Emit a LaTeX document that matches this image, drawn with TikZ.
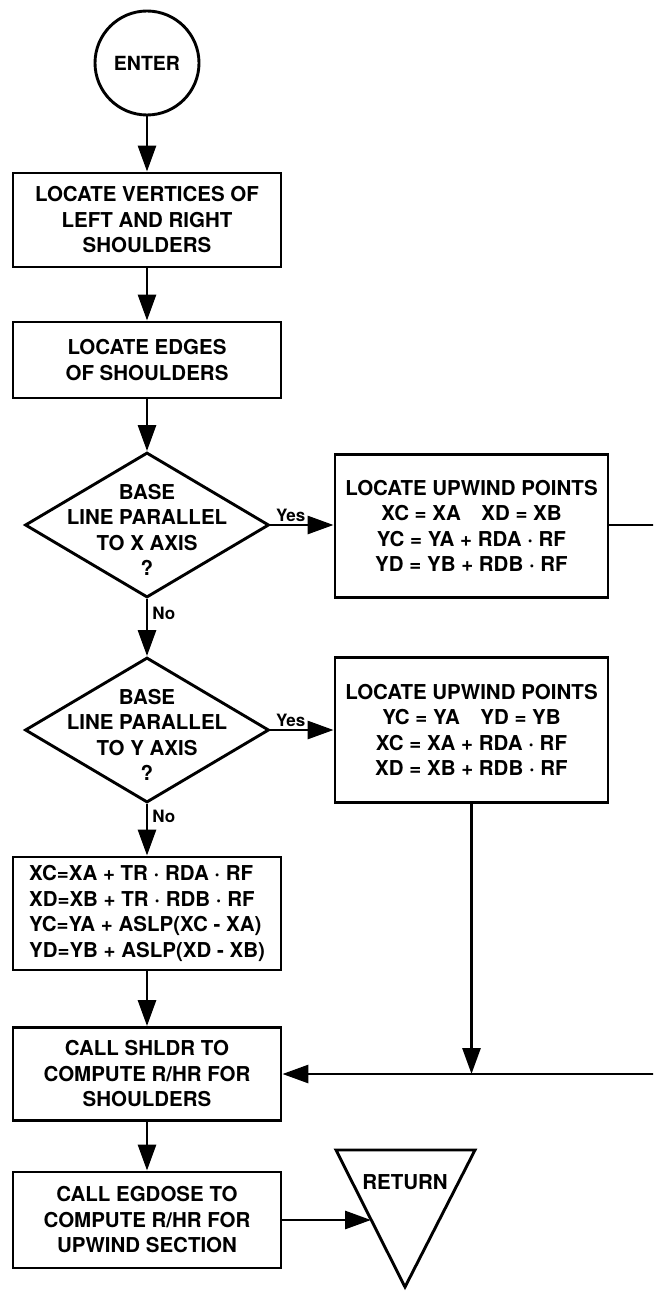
\documentclass[tikz,border=0pt]{standalone}
\usepackage{fontspec}
\setmainfont{TeX Gyre Heros}
\usetikzlibrary{shapes.geometric,arrows.meta}

\begin{document}
\begin{tikzpicture}[x=1pt,y=-1pt,
  line width=2.9pt,
  txt/.style={font=\bfseries\fontsize{20.5}{25.5}\selectfont, align=center},
  procbox/.style={draw, rectangle, txt, inner sep=0pt, minimum width=268pt},
  decision/.style={draw, diamond, inner sep=0pt, minimum width=244pt, minimum height=145pt},
  lbl/.style={font=\bfseries\fontsize{17}{20}\selectfont, inner sep=2pt},
  arr/.style={-{Triangle[length=26pt,width=18pt]}},
]
\useasboundingbox (0,0) rectangle (653,1292);
\clip (0,0) rectangle (653,1292);

% terminal
\node[draw, circle, minimum size=104pt, inner sep=0pt,
      font=\bfseries\fontsize{19.5}{22}\selectfont] (enter) at (147,63) {ENTER};

% main column
\node[procbox, minimum height=94pt] (b1) at (147,220)
  {LOCATE VERTICES OF\\LEFT AND RIGHT\\SHOULDERS};
\node[procbox, minimum height=76pt] (b2) at (147,360)
  {LOCATE EDGES\\OF SHOULDERS};
\node[decision, label={[txt, yshift=-5pt]center:{BASE\\LINE PARALLEL\\TO X AXIS\\?}}]
  (d1) at (147,525) {};
\node[decision, label={[txt, yshift=-5pt]center:{BASE\\LINE PARALLEL\\TO Y AXIS\\?}}]
  (d2) at (147,730) {};
\node[procbox, minimum height=113pt, align=left] (b5) at (147,913.5)
  {XC=XA + TR · RDA · RF\\XD=XB + TR · RDB · RF\\YC=YA + ASLP(XC - XA)\\YD=YB + ASLP(XD - XB)};
\node[procbox, minimum height=93pt] (b6) at (147,1074)
  {CALL SHLDR TO\\COMPUTE R/HR FOR\\SHOULDERS};
\node[procbox, minimum height=96pt] (b7) at (147,1220)
  {CALL EGDOSE TO\\COMPUTE R/HR FOR\\UPWIND SECTION};

% right column
\node[procbox, minimum width=273pt, minimum height=143pt] (b3) at (471.5,526)
  {LOCATE UPWIND POINTS\\XC = XA\hspace{1em}XD = XB\\YC = YA + RDA · RF\\YD = YB + RDB · RF};
\node[procbox, minimum width=273pt, minimum height=145pt] (b4) at (471.5,730)
  {LOCATE UPWIND POINTS\\YC = YA\hspace{1em}YD = YB\\XC = XA + RDA · RF\\XD = XB + RDB · RF};

% return terminal (inverted triangle)
\coordinate (rtl) at (336,1150);
\coordinate (rtr) at (475,1150);
\coordinate (rbot) at (405,1287);
\draw (rtl) -- (rtr) -- (rbot) -- cycle;
\node[txt] (ret) at (405,1182) {RETURN};
\coordinate (retin) at (371,1220);

% flow
\draw[arr] (enter.south) -- (b1.north);
\draw[arr] (b1.south) -- (b2.north);
\draw[arr] (b2.south) -- (d1.north);
\draw[arr] (d1.east) -- node[lbl, above, pos=0.32] {Yes} (d1.east -| b3.west);
\draw[arr] (d1.south) -- node[lbl, right, pos=0.25, xshift=2pt] {No} (d2.north);
\draw[arr] (d2.east) -- node[lbl, above, pos=0.32] {Yes} (b4.west);
\draw[arr] (d2.south) -- node[lbl, right, pos=0.25, xshift=2pt] {No} (b5.north);
\draw[arr] (b5.south) -- (b6.north);
\draw[arr] (b6.south) -- (b7.north);
\draw[arr] (b3.east |- d1.east) -- (690,525) |- (b6.east);
\draw[arr] (b4.south) -- (b4.south |- b6.east);
\draw[arr] (b7.east) -- (retin);
\end{tikzpicture}
\end{document}
